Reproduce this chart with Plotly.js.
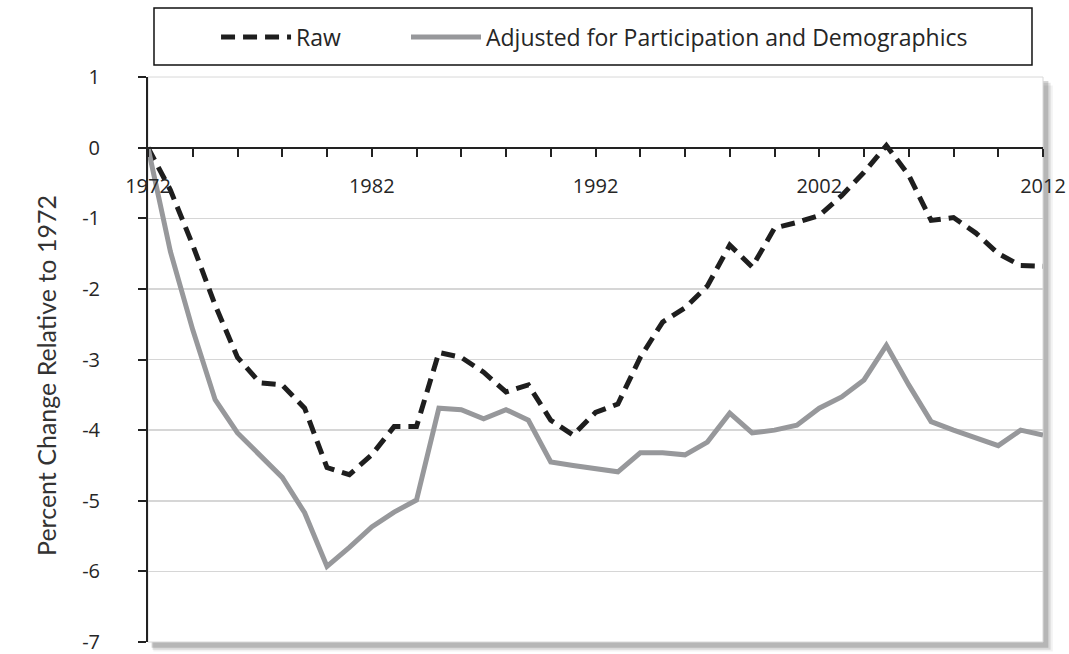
<!DOCTYPE html>
<html>
<head>
<meta charset="utf-8">
<script src="https://cdn.plot.ly/plotly-3.0.1.min.js"></script>
<style>html,body{margin:0;padding:0;background:#fff;}#chart{width:1069px;height:654px;}</style>
</head>
<body>
<div id="chart"></div>
<script>
const years = [1972,1973,1974,1975,1976,1977,1978,1979,1980,1981,1982,1983,1984,1985,1986,1987,1988,1989,1990,1991,1992,1993,1994,1995,1996,1997,1998,1999,2000,2001,2002,2003,2004,2005,2006,2007,2008,2009,2010,2011,2012];
const raw = [0,-0.6,-1.38,-2.23,-2.97,-3.33,-3.36,-3.69,-4.53,-4.63,-4.35,-3.95,-3.95,-2.9,-2.97,-3.18,-3.46,-3.36,-3.86,-4.07,-3.75,-3.63,-2.97,-2.47,-2.27,-1.96,-1.38,-1.69,-1.14,-1.06,-0.96,-0.68,-0.35,0.03,-0.39,-1.03,-0.99,-1.21,-1.5,-1.67,-1.68];
const adjusted = [0,-1.47,-2.58,-3.57,-4.04,-4.35,-4.67,-5.17,-5.93,-5.66,-5.37,-5.16,-4.99,-3.69,-3.71,-3.84,-3.71,-3.86,-4.45,-4.5,-4.55,-4.59,-4.32,-4.32,-4.35,-4.17,-3.76,-4.04,-4.0,-3.93,-3.69,-3.53,-3.29,-2.8,-3.36,-3.88,-4.0,-4.11,-4.22,-4.0,-4.07];
const seriesNames = ['Raw','Adjusted for Participation and Demographics'];
const xTickVals = [1972,1982,1992,2002,2012];
const xTickText = ['1972','1982','1992','2002','2012'];
const yTickVals = [1,0,-1,-2,-3,-4,-5,-6,-7];
const yTickText = ['1','0','-1','-2','-3','-4','-5','-6','-7'];
const yTitle = 'Percent Change Relative to 1972';

const FONT = 'Open Sans, sans-serif';
const TXT = '#262626';
const traces = [
  {x: years, y: raw, name: seriesNames[0], type: 'scatter', mode: 'lines', legend: 'legend',
   line: {color: '#1e1e1e', width: 5, dash: '14px,8px'}},
  {x: years, y: adjusted, name: seriesNames[1], type: 'scatter', mode: 'lines', legend: 'legend2',
   line: {color: '#97989b', width: 5}}
];

const legendBase = {orientation: 'h', xref: 'container', yref: 'container',
  xanchor: 'left', y: 1 - 37/654, yanchor: 'middle',
  bgcolor: 'rgba(0,0,0,0)', borderwidth: 0, itemwidth: 70,
  font: {family: FONT, size: 23, color: TXT}};

const layout = {
  width: 1069, height: 654,
  margin: {l: 148, r: 26, t: 77, b: 12},
  paper_bgcolor: '#ffffff',
  plot_bgcolor: 'rgba(0,0,0,0)',
  font: {family: FONT, size: 20, color: TXT},
  showlegend: true,
  legend: Object.assign({}, legendBase, {x: 0.2021}),
  legend2: Object.assign({}, legendBase, {x: 0.3798}),
  xaxis: {range: [1972, 2012], anchor: 'free', position: 0.875,
          tickmode: 'array', tickvals: xTickVals, ticktext: xTickText,
          ticks: 'outside', ticklen: 8, tickwidth: 2, tickcolor: '#222',
          minor: {tickmode: 'linear', tick0: 1972, dtick: 2, ticks: 'outside', ticklen: 8, tickwidth: 2, tickcolor: '#222', showgrid: false},
          showline: true, linecolor: '#222', linewidth: 2, showgrid: false, zeroline: false,
          ticklabelstandoff: 12, ticklabeloverflow: 'allow',
          tickfont: {family: FONT, size: 20, color: TXT}, fixedrange: true, automargin: false},
  yaxis: {range: [-7, 1], tickmode: 'array', tickvals: yTickVals, ticktext: yTickText,
          ticks: 'outside', ticklen: 8, tickwidth: 2, tickcolor: '#222',
          showline: true, linecolor: '#222', linewidth: 2,
          showgrid: true, gridcolor: '#d6d6d6', gridwidth: 1.5, zeroline: false,
          ticklabelstandoff: 34, ticklabeloverflow: 'allow',
          tickfont: {family: FONT, size: 20, color: TXT}, fixedrange: true, automargin: false},
  shapes: [
    {type: 'rect', xref: 'paper', yref: 'paper', x0: 0.006, x1: 1.011, y0: -0.017, y1: 0.985, layer: 'below', fillcolor: 'rgba(0,0,0,0.05)', line: {width: 0}},
    {type: 'rect', xref: 'paper', yref: 'paper', x0: 0.005, x1: 1.0085, y0: -0.0135, y1: 0.99, layer: 'below', fillcolor: 'rgba(0,0,0,0.1)', line: {width: 0}},
    {type: 'rect', xref: 'paper', yref: 'paper', x0: 0.004, x1: 1.006, y0: -0.01, y1: 0.993, layer: 'below', fillcolor: 'rgba(0,0,0,0.16)', line: {width: 0}},
    {type: 'rect', xref: 'paper', yref: 'paper', x0: 0, x1: 1, y0: 0, y1: 1, layer: 'below', fillcolor: '#ffffff', line: {color: '#d8d8d8', width: 1}},
    {type: 'rect', xref: 'paper', yref: 'paper', x0: 0.0067, x1: 0.9877, y0: 1.0212, y1: 1.1221, layer: 'above', fillcolor: 'rgba(0,0,0,0)', line: {color: '#111', width: 1.5}}
  ],
  annotations: [
    {text: yTitle, xref: 'paper', yref: 'paper', x: -0.114, y: 0.4726, textangle: -90,
     showarrow: false, xanchor: 'center', yanchor: 'middle',
     font: {family: 'Lato, sans-serif', size: 25, color: '#333'}}
  ]
};

Plotly.newPlot('chart', traces, layout, {displayModeBar: false, staticPlot: true});
</script>
</body>
</html>
